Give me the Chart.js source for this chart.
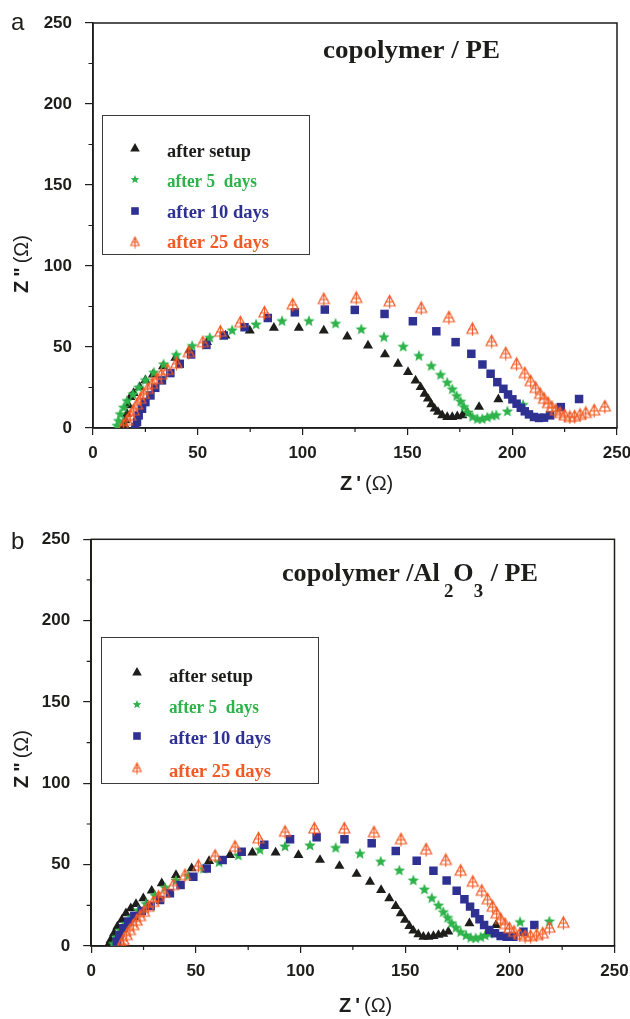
<!DOCTYPE html>
<html lang="en">
<head>
<meta charset="UTF-8">
<title>Impedance spectra</title>
<script src="https://cdn.jsdelivr.net/npm/chart.js"></script>
<style>
  body { margin: 0; background: #fff; width: 630px; height: 1019px; overflow: hidden; position: relative; }
  canvas { position: absolute; left: 0; }
  #chartA { top: 0; }
  #chartB { top: 510px; }
</style>
</head>
<body>
<canvas id="chartA" width="630" height="510"></canvas>
<canvas id="chartB" width="630" height="509"></canvas>
<script>
// ---- data (Z' , Z'' in ohm) ----
const xTickValues = [0, 50, 100, 150, 200, 250];
const yTickValues = [0, 50, 100, 150, 200, 250];
const minorTicks = [25, 75, 125, 175, 225];
const legendLabels = ['after setup', 'after 5  days', 'after 10 days', 'after 25 days'];

// panel a : copolymer / PE
const aSetupX = [15.0, 15.4, 16.2, 17.0, 17.8, 19.4, 22.3, 25.0, 28.6, 33.4, 39.3, 46.1, 54.4, 63.2, 74.8, 86.3, 98.2, 110.1, 121.3, 131.2, 139.3, 145.5, 150.3, 153.9, 156.3, 158.2, 159.8, 161.4, 163.0, 164.6, 166.6, 169.0, 171.4, 173.8, 176.2, 178.6, 184.2, 193.4];
const aSetupY = [2.0, 4.7, 8.8, 14.0, 19.1, 21.5, 25.3, 29.4, 33.0, 38.0, 43.3, 48.2, 53.0, 57.1, 60.1, 61.8, 61.8, 60.1, 56.4, 50.9, 45.4, 39.6, 34.5, 29.3, 25.2, 21.1, 18.1, 14.6, 11.9, 9.9, 7.8, 6.8, 6.8, 7.2, 7.8, 9.3, 13.0, 17.7];
const aFiveX = [11.5, 12.2, 13.0, 14.6, 16.2, 19.1, 21.8, 25.0, 29.0, 33.7, 39.8, 47.3, 55.7, 66.4, 77.8, 90.2, 103.0, 115.7, 128.0, 138.8, 148.0, 155.5, 161.4, 165.8, 169.0, 171.4, 173.5, 175.4, 177.0, 178.9, 181.0, 183.4, 185.7, 188.1, 190.5, 192.4, 197.7, 205.2];
const aFiveY = [1.7, 4.7, 8.8, 12.9, 17.0, 21.1, 25.3, 29.8, 34.5, 39.6, 45.4, 50.9, 56.0, 60.6, 64.2, 66.3, 66.3, 64.7, 61.2, 56.4, 50.5, 44.8, 38.6, 33.1, 28.3, 24.2, 20.1, 16.6, 13.3, 9.9, 7.2, 5.8, 5.8, 6.8, 7.8, 8.2, 10.5, 14.6];
const aTenX = [20.2, 21.0, 21.8, 23.4, 25.0, 27.4, 29.7, 32.9, 36.9, 41.4, 46.8, 54.1, 62.4, 72.3, 83.4, 96.3, 110.6, 124.9, 139.1, 152.6, 163.8, 173.0, 180.5, 185.8, 189.7, 192.9, 195.8, 198.0, 200.1, 202.1, 204.1, 206.0, 208.0, 210.4, 212.8, 215.2, 218.1, 223.2, 231.9];
const aTenY = [0.6, 3.7, 7.8, 11.9, 16.0, 20.1, 24.8, 29.4, 33.9, 39.6, 45.4, 51.3, 57.1, 62.2, 67.9, 71.4, 73.1, 72.9, 70.4, 65.9, 59.7, 53.0, 45.8, 39.2, 33.5, 28.3, 24.2, 20.7, 17.7, 15.0, 12.5, 10.3, 8.4, 6.8, 6.2, 6.4, 7.8, 12.9, 17.9];
const aTwentyFiveX = [14.6, 16.2, 17.8, 19.4, 21.0, 22.6, 24.2, 26.1, 28.2, 30.5, 32.6, 35.6, 39.8, 45.7, 52.4, 60.8, 70.3, 81.8, 95.3, 110.1, 125.6, 141.5, 156.6, 169.8, 181.0, 190.2, 196.9, 202.1, 206.0, 208.8, 211.2, 213.3, 215.2, 217.1, 218.9, 220.8, 222.8, 225.1, 227.5, 229.8, 232.4, 235.1, 239.1, 244.2];
const aTwentyFiveY = [1.7, 4.7, 7.8, 10.9, 14.6, 18.1, 21.1, 24.2, 27.3, 30.4, 33.1, 35.9, 40.0, 46.8, 53.0, 59.5, 65.3, 71.4, 76.2, 79.6, 80.3, 78.2, 74.1, 68.4, 61.2, 53.6, 46.2, 39.6, 33.9, 28.9, 24.8, 21.1, 18.1, 15.4, 12.9, 10.9, 9.3, 7.8, 6.8, 7.2, 8.2, 9.3, 10.9, 13.3];

// panel b : copolymer / Al2O3 / PE
const bSetupX = [8.2, 9.3, 10.9, 12.5, 14.6, 16.6, 18.9, 21.4, 24.9, 28.9, 33.7, 40.5, 48.0, 56.3, 66.3, 77.0, 88.1, 99.0, 109.3, 118.6, 126.8, 133.2, 138.5, 142.4, 145.5, 147.9, 149.9, 152.0, 153.9, 156.3, 158.7, 161.1, 163.5, 165.9, 168.2, 170.6, 180.7, 193.4];
const bSetupY = [0.6, 3.7, 7.8, 11.9, 16.0, 20.1, 23.2, 25.8, 29.3, 34.0, 38.5, 43.6, 47.7, 52.2, 55.9, 57.4, 57.4, 55.9, 52.9, 49.2, 44.3, 39.5, 34.4, 29.3, 24.6, 20.1, 16.0, 12.3, 9.4, 7.2, 5.7, 5.7, 6.1, 6.8, 7.4, 8.8, 13.9, 12.9];
const bFiveX = [10.6, 12.2, 14.1, 16.6, 19.3, 22.5, 26.2, 30.5, 35.3, 40.5, 46.4, 53.6, 61.1, 70.3, 80.6, 92.6, 104.5, 116.8, 128.4, 138.3, 147.2, 153.9, 159.2, 162.7, 165.9, 168.2, 170.3, 172.2, 174.3, 176.5, 179.1, 181.3, 183.7, 186.1, 188.2, 190.3, 204.9, 218.9];
const bFiveY = [1.6, 5.7, 9.8, 13.9, 18.0, 22.1, 26.2, 31.3, 36.1, 40.6, 43.6, 47.7, 51.8, 55.9, 59.4, 61.5, 62.1, 60.6, 57.0, 52.2, 46.7, 40.6, 35.0, 29.7, 25.2, 21.1, 17.6, 14.3, 11.5, 8.8, 6.8, 5.3, 5.1, 5.7, 6.8, 7.8, 15.0, 15.4];
const bTenX = [12.2, 13.4, 15.4, 17.7, 20.6, 24.2, 28.4, 32.9, 37.6, 42.7, 48.8, 55.2, 62.8, 71.9, 82.7, 95.0, 107.7, 121.0, 134.0, 145.5, 155.5, 163.5, 169.8, 174.6, 178.3, 181.0, 183.4, 185.5, 187.7, 190.2, 192.9, 195.6, 198.5, 201.7, 206.5, 211.7];
const bTenY = [2.7, 6.8, 10.9, 15.0, 18.5, 21.5, 24.6, 28.3, 32.4, 37.5, 42.6, 47.7, 52.9, 58.0, 62.3, 65.6, 66.8, 65.6, 63.1, 58.4, 52.4, 46.3, 40.2, 34.0, 28.7, 24.2, 20.1, 16.4, 12.9, 9.8, 7.8, 6.1, 5.7, 5.7, 8.8, 12.9];
const bTwentyFiveX = [14.6, 15.4, 16.9, 18.5, 20.1, 21.7, 23.3, 25.2, 27.3, 29.7, 32.1, 34.8, 39.2, 44.8, 51.2, 59.2, 68.7, 79.9, 92.6, 106.6, 120.9, 135.1, 148.0, 160.0, 169.4, 176.5, 182.3, 186.6, 189.4, 191.8, 193.7, 195.6, 197.7, 199.8, 202.0, 204.6, 207.3, 209.9, 212.8, 215.7, 218.9, 225.6];
const bTwentyFiveY = [1.2, 3.7, 6.8, 9.8, 12.9, 15.6, 18.4, 21.1, 24.2, 27.2, 30.3, 32.8, 37.5, 43.6, 49.4, 55.5, 61.1, 66.2, 70.3, 72.3, 72.3, 69.9, 65.6, 59.4, 52.9, 46.3, 39.5, 34.0, 28.7, 24.2, 20.1, 16.6, 13.5, 10.9, 8.8, 7.2, 6.1, 6.1, 6.8, 7.8, 11.3, 14.3];

// ---- styling ----
const INK = '#1d1d1b';
const GREEN = '#2db34a';
const BLUE = '#2e3192';
const ORANGE = '#f15a24';
const SANS = "'Liberation Sans', Arial, sans-serif";
const SERIF = "'Liberation Serif', 'Times New Roman', serif";

function starImg(r, color) {
  const s = Math.ceil(2 * r + 2), c = document.createElement('canvas');
  c.width = c.height = s;
  const g = c.getContext('2d');
  g.fillStyle = color;
  g.beginPath();
  for (let i = 0; i < 10; i++) {
    const rr = i % 2 ? r * 0.44 : r, ang = -Math.PI / 2 + i * Math.PI / 5;
    g.lineTo(s / 2 + rr * Math.cos(ang), s / 2 + 0.6 + rr * Math.sin(ang));
  }
  g.closePath();
  g.fill();
  return c;
}

function crossTriImg(w, color, lw) {
  const s = Math.ceil(w + 4), c = document.createElement('canvas');
  c.width = c.height = s;
  const g = c.getContext('2d'), cx = s / 2, top = 1.5, base = s - 3;
  g.strokeStyle = color;
  g.lineWidth = lw;
  g.beginPath();
  g.moveTo(cx, top); g.lineTo(cx + w / 2, base); g.lineTo(cx - w / 2, base); g.closePath();
  g.moveTo(cx, top); g.lineTo(cx, s - 0.5);
  const hy = top + (base - top) * 0.62;
  g.moveTo(cx - w * 0.4, hy); g.lineTo(cx + w * 0.4, hy);
  g.stroke();
  return c;
}

const STYLES = [
  { color: INK, point: 'triangle', radius: 5.8 },
  { color: GREEN, point: starImg(6, GREEN), radius: 5 },
  { color: BLUE, point: 'rect', radius: 6 },
  { color: ORANGE, point: crossTriImg(11, ORANGE, 1.2), radius: 5 }
];
const legendImgs = [null, starImg(4.6, GREEN), null, crossTriImg(8.5, ORANGE, 1.1)];

// draw text stretched horizontally to a target width
function stretchText(ctx, parts, x, y, width) {
  let total = 0;
  parts.forEach(p => { ctx.font = p.font; total += (p.gap || 0) + ctx.measureText(p.t).width; });
  const sx = width ? width / total : 1;
  ctx.save();
  ctx.translate(x, y);
  ctx.scale(sx, 1);
  let cx = 0;
  parts.forEach(p => {
    ctx.font = p.font;
    cx += p.gap || 0;
    ctx.fillText(p.t, cx, p.dy || 0);
    cx += ctx.measureText(p.t).width;
  });
  ctx.restore();
}

function legendMarker(ctx, i, x, y) {
  ctx.save();
  if (i === 0) {
    ctx.fillStyle = INK;
    ctx.beginPath();
    ctx.moveTo(x, y - 5); ctx.lineTo(x + 4.8, y + 3.4); ctx.lineTo(x - 4.8, y + 3.4);
    ctx.closePath(); ctx.fill();
  } else if (i === 2) {
    ctx.fillStyle = BLUE;
    ctx.fillRect(x - 3.8, y - 3.8, 7.6, 7.6);
  } else {
    const im = legendImgs[i];
    ctx.drawImage(im, x - im.width / 2, y - im.height / 2);
  }
  ctx.restore();
}

function decor(p) {
  const oy = p.offset;
  return {
    id: 'decor' + p.letter,
    beforeDatasetsDraw(chart) {
      const ctx = chart.ctx, a = chart.chartArea, xs = chart.scales.x, ys = chart.scales.y;
      ctx.save();
      ctx.strokeStyle = INK;
      ctx.lineWidth = 1.5;
      ctx.strokeRect(a.left, a.top, a.right - a.left, a.bottom - a.top);
      ctx.lineWidth = 1.2;
      ctx.beginPath();
      minorTicks.forEach(v => {
        const px = xs.getPixelForValue(v);
        ctx.moveTo(px, a.bottom); ctx.lineTo(px, a.bottom + 4);
        const py = ys.getPixelForValue(v);
        ctx.moveTo(a.left, py); ctx.lineTo(a.left - 4.5, py);
      });
      ctx.stroke();
      ctx.restore();
    },
    afterDraw(chart) {
      const ctx = chart.ctx;
      ctx.save();
      ctx.fillStyle = INK;
      ctx.textBaseline = 'alphabetic';
      ctx.textAlign = 'left';
      // panel letter
      ctx.font = '24px ' + SANS;
      ctx.fillText(p.letter, p.letterPos[0], p.letterPos[1] - oy);
      // title
      stretchText(ctx, p.title, p.titlePos[0], p.titlePos[1] - oy, p.titleWidth);
      // axis titles
      const axParts = (q) => [
        { t: 'Z', font: 'bold 20px ' + SANS },
        { t: q, font: 'bold 20px ' + SANS, gap: 4 },
        { t: '(Ω)', font: '20px ' + SANS, gap: 4 }
      ];
      stretchText(ctx, axParts("'"), p.xTitle[0], p.xTitle[1] - oy);
      ctx.save();
      ctx.translate(p.yTitle[0], p.yTitle[1] - oy);
      ctx.rotate(-Math.PI / 2);
      stretchText(ctx, axParts('"'), 0, 0);
      ctx.restore();
      // legend box
      const L = p.legend;
      ctx.strokeStyle = '#3a3a3a';
      ctx.lineWidth = 1;
      ctx.strokeRect(L.box[0] + 0.5, L.box[1] - oy + 0.5, L.box[2] - L.box[0], L.box[3] - L.box[1]);
      const colors = [INK, GREEN, BLUE, ORANGE];
      legendLabels.forEach((lab, i) => {
        legendMarker(ctx, i, L.markerX, L.markerY[i] - oy);
        ctx.fillStyle = colors[i];
        stretchText(ctx, [{ t: lab, font: 'bold 18px ' + SERIF }], L.textX, L.baseY[i] - oy, L.textW[i]);
      });
      ctx.restore();
    }
  };
}

function buildChart(p) {
  const canvas = document.getElementById(p.canvas);
  const H = canvas.height, oy = p.offset, A = p.area;
  const datasets = p.series.map((s, i) => ({
    label: legendLabels[i],
    data: s.x.map((v, k) => ({ x: v, y: s.y[k] })),
    pointStyle: STYLES[i].point,
    pointRadius: STYLES[i].radius,
    backgroundColor: STYLES[i].color,
    borderColor: STYLES[i].color,
    borderWidth: 0,
    showLine: false,
    order: 4 - i
  }));
  const tickFont = { family: SANS, size: 17, weight: 'bold' };
  new Chart(canvas, {
    type: 'scatter',
    data: { datasets },
    options: {
      responsive: false,
      animation: false,
      events: [],
      layout: { padding: { left: 0, top: A.top - oy, right: 630 - A.right, bottom: 0 } },
      plugins: { legend: { display: false }, tooltip: { enabled: false } },
      scales: {
        x: {
          type: 'linear', min: 0, max: 250,
          afterBuildTicks: s => { s.ticks = xTickValues.map(v => ({ value: v })); },
          afterFit: s => { s.height = H - (A.bottom - oy); s.paddingLeft = 0; s.paddingRight = 0; },
          grid: { drawOnChartArea: false, drawTicks: true, tickLength: 7, color: INK, lineWidth: 1.2 },
          border: { display: true, color: INK, width: 1.5 },
          ticks: { font: tickFont, color: INK, padding: 8, maxRotation: 0, autoSkip: false }
        },
        y: {
          type: 'linear', min: 0, max: 250,
          afterBuildTicks: s => { s.ticks = yTickValues.map(v => ({ value: v })); },
          afterFit: s => { s.width = A.left; s.paddingTop = 0; s.paddingBottom = 0; },
          grid: { drawOnChartArea: false, drawTicks: true, tickLength: 8, color: INK, lineWidth: 1.2 },
          border: { display: true, color: INK, width: 1.5 },
          ticks: { font: tickFont, color: INK, padding: 13, autoSkip: false }
        }
      }
    },
    plugins: [decor(p)]
  });
}

buildChart({
  canvas: 'chartA', offset: 0, letter: 'a', letterPos: [11, 30],
  area: { left: 93, right: 617, top: 23, bottom: 428 },
  series: [
    { x: aSetupX, y: aSetupY }, { x: aFiveX, y: aFiveY },
    { x: aTenX, y: aTenY }, { x: aTwentyFiveX, y: aTwentyFiveY }
  ],
  title: [{ t: 'copolymer / PE', font: 'bold 25px ' + SERIF }],
  titlePos: [323, 58], titleWidth: 177,
  xTitle: [340, 490], yTitle: [28, 293],
  legend: {
    box: [102, 115, 309, 254], markerX: 135, markerY: [148, 179, 211, 242],
    textX: 167, baseY: [157, 187, 218, 248], textW: [84, 90, 102, 102]
  }
});

buildChart({
  canvas: 'chartB', offset: 510, letter: 'b', letterPos: [11, 549],
  area: { left: 91.2, right: 614.5, top: 539.3, bottom: 946 },
  series: [
    { x: bSetupX, y: bSetupY }, { x: bFiveX, y: bFiveY },
    { x: bTenX, y: bTenY }, { x: bTwentyFiveX, y: bTwentyFiveY }
  ],
  title: [
    { t: 'copolymer /Al', font: 'bold 25px ' + SERIF },
    { t: '2', font: 'bold 18px ' + SERIF, gap: 4, dy: 16 },
    { t: 'O', font: 'bold 25px ' + SERIF },
    { t: '3', font: 'bold 18px ' + SERIF, gap: 0, dy: 16 },
    { t: ' / PE', font: 'bold 25px ' + SERIF, gap: 1 }
  ],
  titlePos: [282, 581], titleWidth: 256,
  xTitle: [339, 1012], yTitle: [28, 788],
  legend: {
    box: [101, 637, 318, 783], markerX: 137, markerY: [672, 704, 736, 768],
    textX: 169, baseY: [682, 713, 744, 777], textW: [84, 90, 102, 102]
  }
});
</script>
</body>
</html>
